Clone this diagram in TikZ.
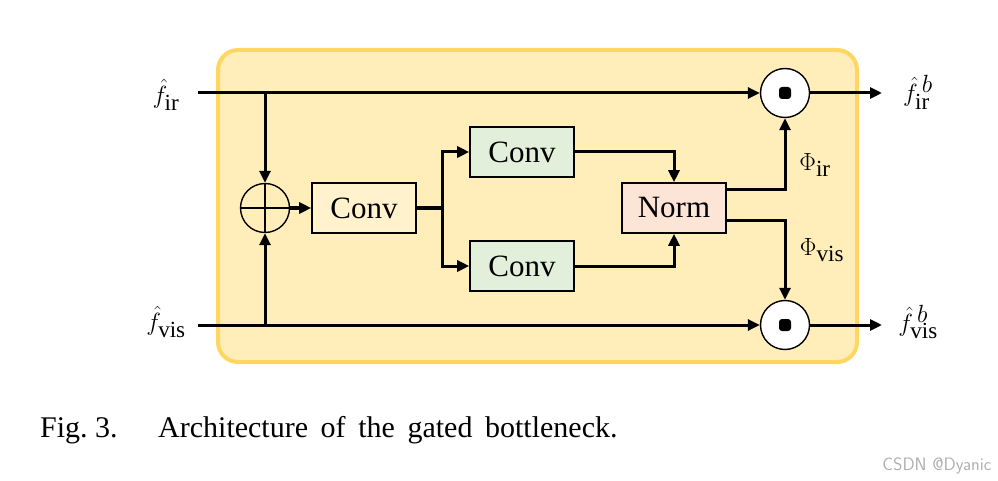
\documentclass[tikz,border=0pt]{standalone}
\usepackage{fontspec}
\setmainfont{Liberation Serif}
\usetikzlibrary{arrows.meta}
\begin{document}
\begin{tikzpicture}[x=1pt,y=-1pt,
  box/.style={draw,line width=1.6pt,minimum width=104pt,minimum height=50pt,font=\fontsize{31}{34}\selectfont},
  op/.style={circle,draw,line width=1.4pt,minimum size=49pt,inner sep=0},
  ar/.style={line width=3pt,-{Triangle[length=12pt,width=11pt]}},
  ln/.style={line width=3pt},
  lab/.style={font=\fontsize{33}{36}\selectfont}]
\useasboundingbox (0,0) rectangle (998,481);
\draw[line width=4pt,draw={rgb,255:red,255;green,214;blue,95},fill={rgb,255:red,255;green,237;blue,186},rounded corners=20pt] (218,50) rectangle (857,362);
\node[lab] (fir) at (166,95) {$\hat f_{\mathrm{ir}}$};
\node[lab] (fvis) at (166,322) {$\hat f_{\mathrm{vis}}$};
\node[op] (plus) at (265,208) {};
\draw[line width=1.4pt] (plus.north)--(plus.south) (plus.west)--(plus.east);
\node[box,fill={rgb,255:red,255;green,242;blue,204}] (c1) at (364,208) {Conv};
\node[box,fill={rgb,255:red,226;green,239;blue,218}] (c2) at (522,152) {Conv};
\node[box,fill={rgb,255:red,226;green,239;blue,218}] (c3) at (522,266) {Conv};
\node[box,fill={rgb,255:red,252;green,228;blue,214}] (nm) at (674,208) {Norm};
\node[op,fill=white] (m1) at (785,93) {};
\node[op,fill=white] (m2) at (785,325) {};
\fill[rounded corners=3pt] (779,87) rectangle (791,99);
\fill[rounded corners=3pt] (779,319) rectangle (791,331);
\node[lab] (oir) at (918,92) {$\hat f^{\,b}_{\mathrm{ir}}$};
\node[lab] (ovis) at (918,322) {$\hat f^{\,b}_{\mathrm{vis}}$};
\coordinate (a) at (198,93);
\coordinate (b) at (198,325);
\coordinate (s1) at (265,93);
\coordinate (s2) at (265,325);
\coordinate (br) at (442,208);
\draw[ar] (a) -- (m1.west);
\draw[ar] (b) -- (m2.west);
\draw[ar] (s1) -- (plus.north);
\draw[ar] (s2) -- (plus.south);
\draw[ar] (plus.east) -- (c1.west);
\draw[ln] (c1.east) -- (br);
\draw[ar] (br) |- (c2.west);
\draw[ar] (br) |- (c3.west);
\draw[ar] (c2.east) -| (nm.north);
\draw[ar] (c3.east) -| (nm.south);
\draw[ar] (nm.east|-0,190) -| (m1.south);
\draw[ar] (nm.east|-0,220) -| (m2.north);
\draw[ar] (m1.east) -- (882,93);
\draw[ar] (m2.east) -- (882,325);
\node[lab] (pir) at (815,165) {$\Phi_{\mathrm{ir}}$};
\node[lab] (pvis) at (822,250) {$\Phi_{\mathrm{vis}}$};
\node[anchor=base west,font=\fontsize{30}{33}\selectfont,inner sep=0] (cap) at (40,437) {Fig.\ 3.};
\node[anchor=base west,font=\fontsize{30}{33}\selectfont,inner sep=0] (cap2) at (158,437) {\spaceskip=0.42em Architecture of the gated bottleneck.};
\node[anchor=base east,font=\fontsize{18}{20}\selectfont\sffamily,text={rgb,255:red,175;green,175;blue,175}] (wm) at (995,470) {CSDN @Dyanic};
\end{tikzpicture}
\end{document}
